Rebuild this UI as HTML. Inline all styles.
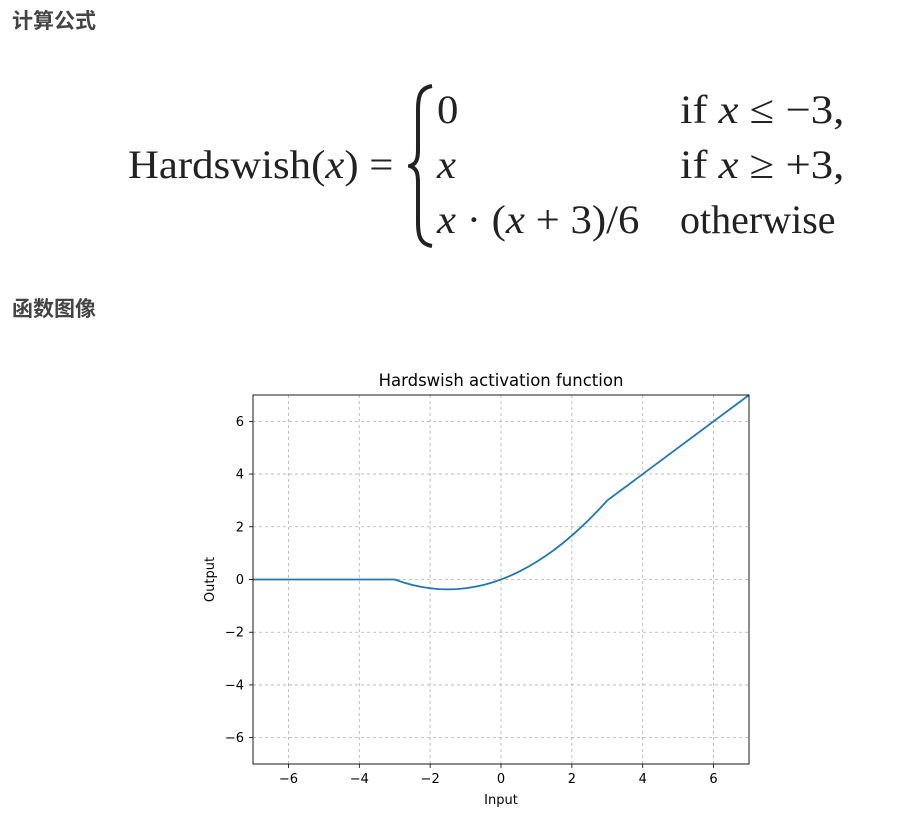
<!DOCTYPE html>
<html><head><meta charset="utf-8"><style>
body{margin:0;width:907px;height:818px;background:#fff;position:relative;overflow:hidden;font-family:"Liberation Sans","Noto Sans CJK SC",sans-serif}
.h{position:absolute;left:12px;font-size:21px;font-weight:bold;color:#444;margin:0}
.f{position:absolute;font-family:"Liberation Serif","DejaVu Serif",serif;font-size:40px;color:#222;white-space:nowrap;line-height:1;transform-origin:0 0;transform:scaleX(1.07)}
.i{font-style:italic}
</style></head><body>
<h3 class="h" style="top:5px">计算公式</h3>
<div>
<div class="f" style="left:128px;top:145px">Hardswish(<span class="i">x</span>) =</div>
<svg style="position:absolute;left:408px;top:84px" width="30" height="164">
<path d="M24 2 C12 4 10 12 10 26 L10 66 C10 76 8 80 2 82 C8 84 10 88 10 98 L10 138 C10 152 12 160 24 162" fill="none" stroke="#222" stroke-width="4"/>
</svg>
<div class="f" style="left:437px;top:90px">0</div>
<div class="f" style="left:437px;top:145px"><span class="i">x</span></div>
<div class="f" style="left:437px;top:200px"><span class="i">x</span> · (<span class="i">x</span> + 3)/6</div>
<div class="f" style="left:680px;top:90px;transform:scaleX(1.12)">if <span class="i">x</span> ≤ −3,</div>
<div class="f" style="left:680px;top:145px;transform:scaleX(1.12)">if <span class="i">x</span> ≥ +3,</div>
<div class="f" style="left:680px;top:200px;transform:scaleX(1.0)">otherwise</div>
</div>
<h3 class="h" style="top:293px">函数图像</h3>
<svg id="chart" style="position:absolute;left:0;top:0;font-family:'DejaVu Sans','Liberation Sans',sans-serif" width="907" height="818"></svg>
<script>
const xTicks=[-6,-4,-2,0,2,4,6];
const yTicks=[-6,-4,-2,0,2,4,6];
const xTickLabels=["−6","−4","−2","0","2","4","6"];
const yTickLabels=["−6","−4","−2","0","2","4","6"];
const inputs=[-7,-3,-2.75,-2.5,-2.25,-2,-1.75,-1.5,-1.25,-1,-0.75,-0.5,-0.25,0,0.25,0.5,0.75,1,1.25,1.5,1.75,2,2.25,2.5,2.75,3,7];
const outputs=[0,0,-0.115,-0.208,-0.281,-0.333,-0.365,-0.375,-0.365,-0.333,-0.281,-0.208,-0.115,0,0.135,0.292,0.469,0.667,0.885,1.125,1.385,1.667,1.969,2.292,2.635,3,7];
const L=253,R=749,T=395,B=764,xmin=-7,xmax=7,ymin=-7,ymax=7;
const sx=v=>L+(v-xmin)/(xmax-xmin)*(R-L);
const sy=v=>B-(v-ymin)/(ymax-ymin)*(B-T);
const svg=document.getElementById('chart');
const NS='http://www.w3.org/2000/svg';
function mk(tag,at){const e=document.createElementNS(NS,tag);for(const k in at)e.setAttribute(k,at[k]);svg.appendChild(e);return e;}
xTicks.forEach((t,i)=>{
 const g=mk('line',{x1:sx(t),x2:sx(t),y1:T,y2:B,stroke:'#b0b0b0','stroke-width':0.8,'stroke-dasharray':'3,3'});
 
 
 const k=mk('line',{x1:sx(t),x2:sx(t),y1:B,y2:B+4,stroke:'#000','stroke-width':0.8});
 
 
 const l=mk('text',{x:sx(t),y:B+19,'text-anchor':'middle','font-size':13,fill:'#000'});
 l.textContent=xTickLabels[i];
 
 
});
yTicks.forEach((t,i)=>{
 const g=mk('line',{x1:L,x2:R,y1:sy(t),y2:sy(t),stroke:'#b0b0b0','stroke-width':0.8,'stroke-dasharray':'3,3'});
 
 
 const k=mk('line',{x1:L-4,x2:L,y1:sy(t),y2:sy(t),stroke:'#000','stroke-width':0.8});
 
 
 const l=mk('text',{x:L-9,y:sy(t)+4.5,'text-anchor':'end','font-size':13,fill:'#000'});
 l.textContent=yTickLabels[i];
 
 
});
const p=mk('polyline',{points:inputs.map((x,i)=>sx(x)+','+sy(outputs[i])).join(' '),fill:'none',stroke:'#1f77b4','stroke-width':1.8});


const f=mk('rect',{x:L,y:T,width:R-L,height:B-T,fill:'none',stroke:'#000','stroke-width':0.9});


const ti=mk('text',{x:(L+R)/2,y:386,'text-anchor':'middle','font-size':16.5,fill:'#000'});
ti.textContent='Hardswish activation function';


const xl=mk('text',{x:(L+R)/2,y:804,'text-anchor':'middle','font-size':13,fill:'#000'});
xl.textContent='Input';


const yl=mk('text',{x:214,y:(T+B)/2,'text-anchor':'middle','font-size':13,fill:'#000',transform:'rotate(-90 214 '+((T+B)/2)+')'});
yl.textContent='Output';


</script>
</body></html>
